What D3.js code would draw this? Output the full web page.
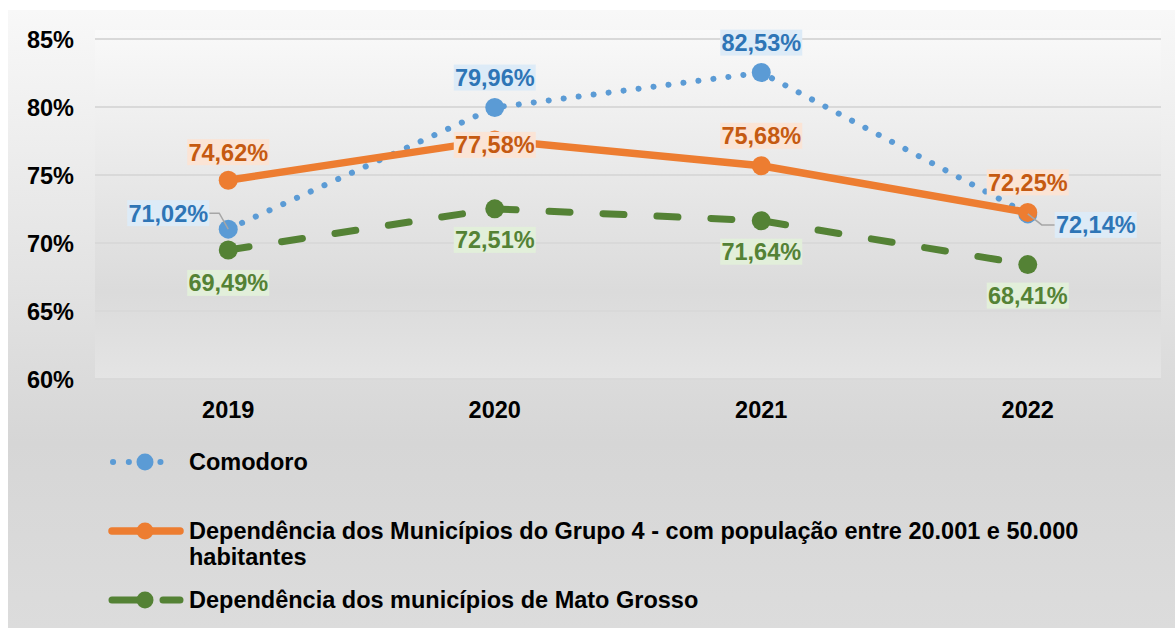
<!DOCTYPE html>
<style>
  body { margin: 0; background: #fff; }
  text { font-family: "Liberation Sans", Arial, sans-serif; font-weight: bold; }
</style>
<svg width="1175" height="628"></svg>
<script src="https://d3js.org/d3.v7.min.js"></script>
<script>
    var years = ["2019", "2020", "2021", "2022"];
    var comodoro = [71.02, 79.96, 82.53, 72.14];
    var grupo4 = [74.62, 77.58, 75.68, 72.25];
    var matoGrosso = [69.49, 72.51, 71.64, 68.41];
    var yTicks = [60, 65, 70, 75, 80, 85];
    var seriesNames = ["Comodoro",
        "Dependência dos Municípios do Grupo 4 - com população entre 20.001 e 50.000|habitantes",
        "Dependência dos municípios de Mato Grosso"];

    // label centre offset from its point, in px
    var comodoroPos = [[-60, -16], [0, -30], [0, -30], [68, 11]];
    var grupo4Pos = [[0, -28], [0, 5], [0, -30], [0, -30]];
    var matoPos = [[0, 33], [0, 31], [0, 31], [0, 31]];

    var svg = d3.select("svg"),
        width = +svg.attr("width"),
        height = +svg.attr("height"),
        margin = {top: 39, right: 14, bottom: 249, left: 95};

    var defs = svg.append("defs");
    var g1 = defs.append("linearGradient").attr("id", "bg").attr("x1", 0).attr("y1", 0).attr("x2", 0).attr("y2", 1);
    g1.append("stop").attr("offset", "0%").attr("stop-color", "#f8f8f8");
    g1.append("stop").attr("offset", "70%").attr("stop-color", "#d6d6d6");
    g1.append("stop").attr("offset", "100%").attr("stop-color", "#dcdcdc");
    var g2 = defs.append("linearGradient").attr("id", "plotbg").attr("x1", 0).attr("y1", 0).attr("x2", 0).attr("y2", 1);
    g2.append("stop").attr("offset", "0%").attr("stop-color", "#f9f9f9");
    g2.append("stop").attr("offset", "75%").attr("stop-color", "#dbdbdb");
    g2.append("stop").attr("offset", "100%").attr("stop-color", "#e4e4e4");

    svg.append("rect").attr("x", 8).attr("y", 10).attr("width", width - 8).attr("height", height - 10)
        .attr("fill", "url(#bg)");

    var x = d3.scaleBand()
        .domain(years)
        .range([margin.left, width - margin.right]);

    var y = d3.scaleLinear()
        .domain([60, 85])
        .range([height - margin.bottom, margin.top]);

    svg.append("rect")
        .attr("x", margin.left).attr("y", 30)
        .attr("width", width - margin.right - margin.left)
        .attr("height", y(60) - 30)
        .attr("fill", "url(#plotbg)");

    // gridlines
    svg.append("g")
        .selectAll("line")
        .data(yTicks)
        .enter().append("line")
        .attr("x1", margin.left).attr("x2", width - margin.right)
        .attr("y1", function(d) { return y(d); })
        .attr("y2", function(d) { return y(d); })
        .attr("stroke", "#d9d9d9")
        .attr("stroke-width", 2);

    var yAxis = svg.append("g")
        .attr("transform", "translate(" + (margin.left - 21) + ",0)")
        .call(d3.axisLeft(y).tickValues(yTicks).tickSize(0).tickPadding(0).tickFormat(function(d) { return d + "%"; }));
    yAxis.select(".domain").remove();
    yAxis.selectAll("text").attr("font-size", 23.5).attr("fill", "#000")
        .attr("font-family", "Liberation Sans, Arial, sans-serif").attr("dy", "0.36em");

    var xAxis = svg.append("g")
        .attr("transform", "translate(0," + (y(60) + 31) + ")")
        .call(d3.axisBottom(x).tickSize(0).tickPadding(0));
    xAxis.select(".domain").remove();
    xAxis.selectAll("text").attr("font-size", 23.5).attr("fill", "#000")
        .attr("font-family", "Liberation Sans, Arial, sans-serif").attr("dy", "0.36em");

    var cx = function(i) { return x(years[i]) + x.bandwidth() / 2; };

    var series = [
        {values: comodoro, pos: comodoroPos, color: "#5b9bd5", width: 6, dash: "0.1 15", text: "#2e75b6", box: "#ddebf7", leader: true},
        {values: grupo4, pos: grupo4Pos, color: "#ed7d31", width: 7.5, dash: null, text: "#c55a11", box: "#fbe4d5"},
        {values: matoGrosso, pos: matoPos, color: "#548235", width: 7, dash: "21 33", text: "#548235", box: "#e2efda"}
    ];

    var line = d3.line()
        .x(function(d, i) { return cx(i); })
        .y(function(d) { return y(d); });

    // mato grosso first, then comodoro, grupo 4 on top
    [2, 0, 1].forEach(function(k) {
        var s = series[k];
        svg.append("path")
            .datum(s.values)
            .attr("fill", "none")
            .attr("stroke", s.color)
            .attr("stroke-width", s.width)
            .attr("stroke-linecap", "round")
            .attr("stroke-dasharray", s.dash)
            .attr("d", line);
        svg.append("g").selectAll("circle")
            .data(s.values)
            .enter().append("circle")
            .attr("cx", function(d, i) { return cx(i); })
            .attr("cy", function(d) { return y(d); })
            .attr("r", 9.5)
            .attr("fill", s.color);
    });

    // data labels
    var fmt = function(v) { return v.toFixed(2).replace(".", ",") + "%"; };
    series.forEach(function(s, k) {
        var lg = svg.append("g");
        s.values.forEach(function(v, i) {
            var px = cx(i), py = y(v),
                lx = px + s.pos[i][0], ly = py + s.pos[i][1];
            if (s.leader && (i === 0 || i === 3)) {
                var ex = i === 0 ? lx + 41 : lx - 41;
                var mx = i === 0 ? ex + 10 : ex - 13;
                lg.append("polyline")
                    .attr("points", [[ex, ly], [mx, ly], [px, py]].join(" "))
                    .attr("fill", "none")
                    .attr("stroke", "#a6a6a6")
                    .attr("stroke-width", 1.5);
            }
            lg.append("rect")
                .attr("x", lx - 41).attr("y", ly - 13)
                .attr("width", 82).attr("height", 26)
                .attr("fill", s.box);
            lg.append("text")
                .attr("x", lx).attr("y", ly)
                .attr("dy", "0.36em")
                .attr("text-anchor", "middle")
                .attr("font-size", 23.5)
                .attr("fill", s.text)
                .text(fmt(v));
        });
    });

    // legend
    var legendY = [462, 531, 600];
    series.forEach(function(s, k) {
        var g = svg.append("g").attr("transform", "translate(0," + legendY[k] + ")");
        var x1 = k === 0 ? 113 : 112, x2 = k === 0 ? 176 : 180;
        g.append("line")
            .attr("x1", x1).attr("x2", x2)
            .attr("stroke", s.color)
            .attr("stroke-width", s.width)
            .attr("stroke-linecap", "round")
            .attr("stroke-dasharray", k === 0 ? "0.1 15.7" : k === 2 ? "30 21" : null);
        g.append("circle").attr("cx", 145).attr("r", 8.5).attr("fill", s.color);
        var lines = seriesNames[k].split("|");
        var t = g.append("text").attr("font-size", 23.5).attr("fill", "#000");
        lines.forEach(function(l, j) {
            t.append("tspan").attr("x", 189).attr("dy", j === 0 ? "0.36em" : "1.1em").text(l);
        });
    });
</script>
